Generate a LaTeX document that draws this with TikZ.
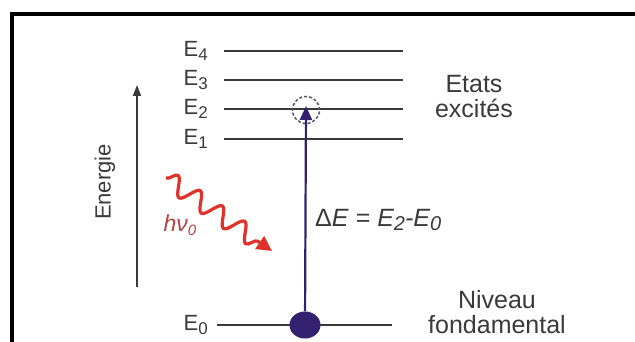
\documentclass[tikz,border=0pt]{standalone}
\usepackage{fontspec}
\setmainfont{Liberation Sans}
\usetikzlibrary{arrows.meta, positioning, shapes.geometric, decorations.pathmorphing}
\definecolor{lvlgray}{HTML}{3A3A3A}
\definecolor{indigo}{HTML}{33206F}
\definecolor{dashgray}{HTML}{555566}
\definecolor{photonred}{HTML}{E0322B}
\definecolor{hnured}{HTML}{B8403E}
% lowered, slightly smaller index
\newcommand{\lowidx}[2]{\raisebox{-0.16em}{\fontsize{#1}{#1}\selectfont #2}}

\begin{document}
\begin{tikzpicture}[
    x=1pt, y=-1pt,
    level/.style={lvlgray, line width=2pt},
    lvllabel/.style={anchor=east, inner sep=0pt, text=lvlgray,
      font=\fontsize{22}{22}\selectfont},
    sidelabel/.style={align=center, inner sep=0pt, text=lvlgray,
      font=\fontsize{25}{25}\selectfont},
    photon/.style={photonred, line width=3.2pt, decorate,
      decoration={snake, amplitude=9pt, segment length=27pt, post length=14pt},
      -{Triangle[length=15pt, width=15pt]}},
  ]
  \useasboundingbox (0,0) rectangle (635,342);

  % Frame (open to the right and below)
  \draw[line width=4.5pt] (12,350) -- (12,14) -- (645,14);

  % === Excited levels E1..E4 ===
  \foreach \i/\y in {1/139, 2/109, 3/80, 4/51} {
    \node[lvllabel] (lE\i) at (208,\y) {E\lowidx{17}{\i}};
    \coordinate (L\i a) at (224,\y);
    \coordinate (L\i b) at (403,\y);
    \draw[level] (L\i a) -- (L\i b);
  }

  % === Ground level E0 ===
  \node[lvllabel] (lE0) at (208,325) {E\lowidx{17}{0}};
  \coordinate (L0a) at (217,325);
  \coordinate (L0b) at (392,325);
  \draw[level] (L0a) -- (L0b);

  \node[sidelabel] (exc) at (474,97) {Etats\\excités};
  \node[sidelabel] (fond) at (497,312) {Niveau\\fondamental};

  % Energy axis
  \coordinate (ebot) at (137,287);
  \coordinate (etop) at (137,85);
  \draw[lvlgray, line width=1.6pt, -{Triangle[length=11pt, width=8pt]}] (ebot) -- (etop);
  \node[rotate=90, text=lvlgray, font=\fontsize{22}{22}\selectfont] (energ) at (105,182) {Energie};

  % === Electron: ground state and excited state ===
  \node[circle, draw=dashgray, dashed, dash pattern=on 3pt off 2pt, line width=1.5pt,
        minimum size=27pt, inner sep=0pt] (ex2) at (306,110) {};
  \node[ellipse, fill=indigo, minimum width=31pt, minimum height=27pt, inner sep=0pt]
    (g0) at (305,325) {};
  \draw[indigo, line width=2.2pt, -{Triangle[length=14pt, width=12pt]}]
    (g0) -- ([yshift=4pt]ex2.center);
  \node[anchor=west, inner sep=0pt, text=lvlgray, font=\fontsize{25}{25}\selectfont]
    (dE) at (315,220)
    {Δ\textit{E} = \textit{E\lowidx{20}{2}-E\lowidx{20}{0}}};

  % Incoming photon
  \coordinate (ph0) at (166,178);
  \coordinate (ph1) at (272,251);
  \draw[photon] (ph0) -- (ph1);
  \node[text=hnured, inner sep=0pt, font=\fontsize{23}{23}\selectfont\itshape]
    (hnu) at (180,225) {hν\lowidx{15}{0}};

\end{tikzpicture}
\end{document}
